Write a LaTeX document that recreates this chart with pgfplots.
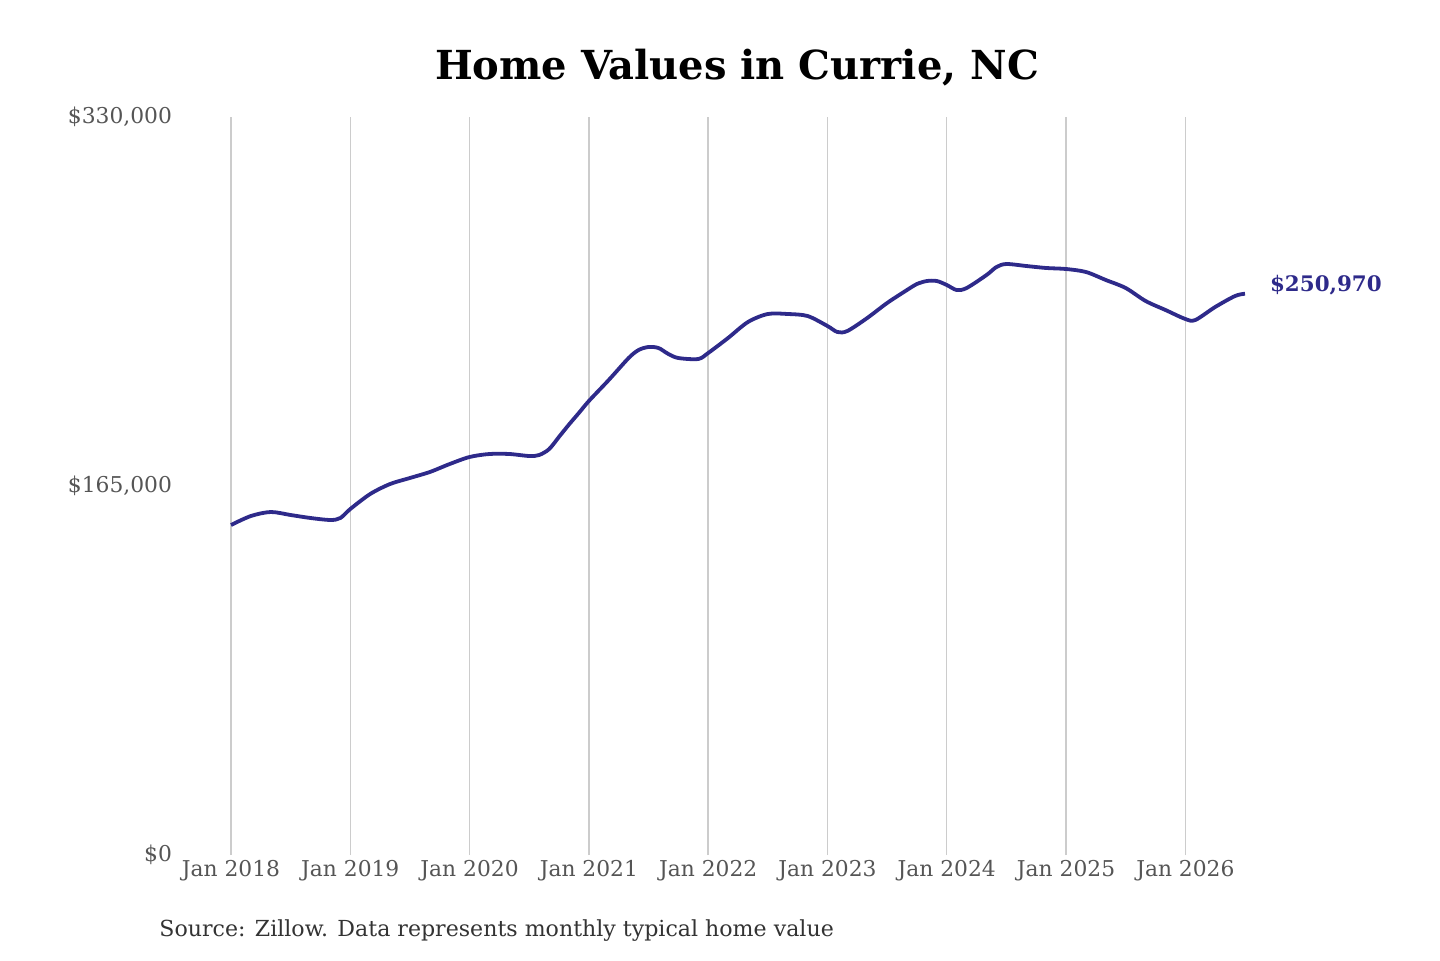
\documentclass[border=0pt]{standalone}
\usepackage{pgfplots}
\pgfplotsset{compat=1.18}
\usepackage{fontspec}
\setmainfont{DejaVu Serif}
\definecolor{linec}{HTML}{2E2A8A}
\definecolor{gridc}{HTML}{CCCCCC}
\definecolor{tickc}{HTML}{555555}
\definecolor{srcc}{HTML}{333333}
\begin{document}
\begin{tikzpicture}[x=1pt,y=1pt]
\path[use as bounding box] (0,0) rectangle (720,480);
\begin{axis}[
  at={(115.5pt,52.5pt)}, anchor=origin,
  scale only axis, width=507pt, height=369pt,
  xmin=0, xmax=102, ymin=0, ymax=330000,
  scaled y ticks=false,
  axis line style={draw=none},
  major tick length=0pt,
  xtick={0,12,24,36,48,60,72,84,96},
  xticklabels={Jan 2018,Jan 2019,Jan 2020,Jan 2021,Jan 2022,Jan 2023,Jan 2024,Jan 2025,Jan 2026},
  ytick={0,165000,330000},
  yticklabels={{\$0},{\$165,000},{\$330,000}},
  xmajorgrids, major grid style={draw=gridc, line width=0.7pt},
  tick label style={font=\fontsize{10.9}{13}\selectfont, text=tickc},
  yticklabel style={xshift=-26pt},
  xticklabel style={yshift=1pt},
  clip=false,
]
\addplot[linec, line width=1.9pt, smooth, tension=0.5] coordinates {
(0,147560) (2,151580) (4,153370) (6,152030) (8,150690) (10,149800) (11,150690)
(12,154710) (14,161420) (16,165890) (18,168580) (20,171260) (22,174830)
(24,177970) (26,179310) (28,179310) (30,178410) (31,178860) (32,181500) (33,187000) (34,192500) (35,197700)
(36,203010) (38,212400) (40,222230) (41,225810) (42,227150) (43,226710) (44,224020) (45,222230) (47,221790)
(48,224470) (50,231180) (52,238330) (54,241910) (56,241910) (58,241010)
(60,236540) (61,233860) (62,234310) (64,240120) (66,246830) (68,252640) (69,255320) (70,256660) (71,256660)
(72,254880) (73,252640) (74,253530) (76,259340) (77,262920) (78,264270) (80,263370) (82,262480)
(84,262030) (86,260690) (88,257110) (90,253530) (92,247720) (94,243700)
(96,239670) (97,239220) (99,245040) (101,249960) (102,250970)
};
\node[anchor=west, font=\fontsize{10.7}{13}\selectfont\bfseries, text=linec, xshift=9pt, yshift=4.5pt] at (axis cs:102,250970) {\$250,970};
\end{axis}
\node[font=\fontsize{20}{24}\selectfont\bfseries] at (368.5,446) {Home Values in Currie, NC};
\node[anchor=west, inner sep=0pt, font=\fontsize{11.05}{13}\selectfont, text=srcc] at (79.5,14.5) {Source: Zillow. Data represents monthly typical home value};
\end{tikzpicture}
\end{document}
